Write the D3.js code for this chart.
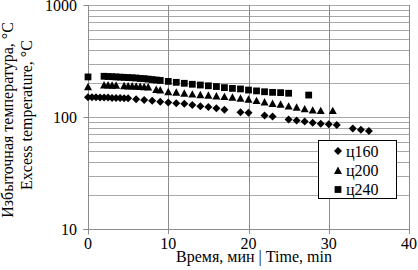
<!DOCTYPE html>
<html>
<head>
<meta charset="utf-8">
<script src="https://cdn.jsdelivr.net/npm/d3@7"></script>
<style>
  body { margin: 0; background: #fff; }
  text { font-family: "Liberation Serif", "Times New Roman", serif; fill: #000; }
</style>
</head>
<body>
<svg id="chart" width="418" height="270"></svg>
<script>
// data
var t160 = [0,0.5,1,1.5,2,2.5,3,3.5,4,4.5,5,6,7,8,9,10,11,12,13,14,15,16,17,19,20,22,23,25,26,27,28,29,30,31,33,34,35];
var v160 = [150,150,150,149,149,149,148,148,148,147,147,144,142,140,137,135,133,131,128,125,123,120,116,110,109,103,101,95,93,91,89,87,86,85,79,77,75];

var t200 = [0,2,2.5,3,3.5,4.5,5,5.5,6,6.5,7,7.5,8.5,9,10,11,12,13,14,15,16,17,18,19,20,21,22,23,24,25,26,27,28,29,30.5];
var v200 = [186,193,193,192,192,190,189,189,188,187,186,185,176,174,168,166,163,160,158,156,154,152,150,147,144,140,136,132,130,125,122,118,115,114,114];

var t240 = [0,2,2.5,3,3.5,4,4.5,5,5.5,6,6.5,7,7.5,8,8.5,9,10,11,12,13,14,15,16,17,18,19,20,21,22,23,24,25,27.5];
var v240 = [228,231,230,229,228,227,226,225,224,223,221,220,218,216,214,212,208,204,200,196,193,190,187,183,180,178,174,171,168,166,165,163,157];

var seriesNames = ['ц160', 'ц200', 'ц240'];
var xTicks = [0, 10, 20, 30, 40];
var yTicks = [10, 100, 1000];
var yLabel1 = 'Избыточная температура, °C';
var yLabel2 = 'Excess temperature, °C';
var xLabel = 'Время, мин | Time, min';

//-------------------

var svg = d3.select('#chart');

var xScale = d3.scaleLinear().domain([0, 40]).range([88, 409]);
var yScale = d3.scaleLog().domain([10, 1000]).range([229, 5]);

// custom diamond (square turned 45deg)
var diamond = {
  draw: function(ctx, size) {
    var r = Math.sqrt(size / 2);
    ctx.moveTo(0, -r);
    ctx.lineTo(r, 0);
    ctx.lineTo(0, r);
    ctx.lineTo(-r, 0);
    ctx.closePath();
  }
};
var triangle = {
  draw: function(ctx, size) {
    var r = Math.sqrt(size) / 2;
    ctx.moveTo(0, -r);
    ctx.lineTo(r, r * 0.85);
    ctx.lineTo(-r, r * 0.85);
    ctx.closePath();
  }
};
var symbols = [
  d3.symbol().type(diamond).size(32),
  d3.symbol().type(triangle).size(64),
  d3.symbol().type(d3.symbolSquare).size(46)
];

// horizontal grid (log minor ticks)
var hLines = [];
[10, 100].forEach(function(dec) {
  for (var k = 2; k <= 10; k++) hLines.push(dec * k);
});
svg.append('g').selectAll('line')
  .data(hLines)
  .enter()
  .append('line')
  .attr('x1', xScale(0))
  .attr('x2', xScale(40))
  .attr('y1', function(d) { return Math.round(yScale(d)) + 0.5; })
  .attr('y2', function(d) { return Math.round(yScale(d)) + 0.5; })
  .style('stroke', '#a8a8a8')
  .style('stroke-width', 1);

// vertical grid
svg.append('g').selectAll('line')
  .data(xTicks.slice(1))
  .enter()
  .append('line')
  .attr('x1', function(d) { return Math.round(xScale(d)) + 0.5; })
  .attr('x2', function(d) { return Math.round(xScale(d)) + 0.5; })
  .attr('y1', yScale(1000))
  .attr('y2', yScale(10) + 5)
  .style('stroke', '#8c8c8c')
  .style('stroke-width', 1);

// axes
var axisX = Math.round(xScale(0)) + 0.5;
var axisY = Math.round(yScale(10)) + 0.5;
svg.append('line')
  .attr('x1', axisX).attr('x2', axisX)
  .attr('y1', yScale(1000)).attr('y2', axisY)
  .style('stroke', '#8c8c8c');
svg.append('line')
  .attr('x1', axisX - 5).attr('x2', xScale(40))
  .attr('y1', axisY).attr('y2', axisY)
  .style('stroke', '#8c8c8c');

svg.append('g').selectAll('line')
  .data(yTicks)
  .enter()
  .append('line')
  .attr('x1', axisX - 5).attr('x2', axisX)
  .attr('y1', function(d) { return Math.round(yScale(d)) + 0.5; })
  .attr('y2', function(d) { return Math.round(yScale(d)) + 0.5; })
  .style('stroke', '#8c8c8c');
svg.append('line')
  .attr('x1', axisX).attr('x2', axisX)
  .attr('y1', axisY).attr('y2', axisY + 5)
  .style('stroke', '#8c8c8c');

// tick labels
svg.append('g').selectAll('text')
  .data(yTicks)
  .enter()
  .append('text')
  .attr('x', 77)
  .attr('y', function(d) { return yScale(d) + 5.5; })
  .attr('text-anchor', 'end')
  .attr('font-size', 16)
  .text(function(d) { return d; });

svg.append('g').selectAll('text')
  .data(xTicks)
  .enter()
  .append('text')
  .attr('x', function(d) { return xScale(d); })
  .attr('y', 249)
  .attr('text-anchor', 'middle')
  .attr('font-size', 16)
  .text(function(d) { return d; });

// axis titles
svg.append('text')
  .attr('x', 254)
  .attr('y', 262)
  .attr('text-anchor', 'middle')
  .attr('font-size', 16)
  .text(xLabel);

svg.append('text')
  .attr('transform', 'translate(13,120) rotate(-90)')
  .attr('text-anchor', 'middle')
  .attr('font-size', 16)
  .text(yLabel1);
svg.append('text')
  .attr('transform', 'translate(32,115) rotate(-90)')
  .attr('text-anchor', 'middle')
  .attr('font-size', 16)
  .text(yLabel2);

// points
var allSeries = [
  { t: t160, v: v160 },
  { t: t200, v: v200 },
  { t: t240, v: v240 }
];
allSeries.forEach(function(s, i) {
  var pts = s.t.map(function(t, j) { return { t: t, v: s.v[j] }; });
  svg.append('g').selectAll('path')
    .data(pts)
    .enter()
    .append('path')
    .attr('d', symbols[i])
    .attr('transform', function(d) {
      return 'translate(' + xScale(d.t) + ',' + yScale(d.v) + ')';
    })
    .style('fill', '#000');
});

// legend
var legend = svg.append('g');
legend.append('rect')
  .attr('x', 318.5).attr('y', 140.5)
  .attr('width', 78).attr('height', 58)
  .style('fill', '#fff')
  .style('stroke', '#000');
var legendY = [151, 170.5, 189.5];
seriesNames.forEach(function(name, i) {
  legend.append('path')
    .attr('d', symbols[i])
    .attr('transform', 'translate(338,' + legendY[i] + ')')
    .style('fill', '#000');
  legend.append('text')
    .attr('x', 346)
    .attr('y', legendY[i] + 5.5)
    .attr('font-size', 16)
    .text(name);
});
</script>
</body>
</html>
